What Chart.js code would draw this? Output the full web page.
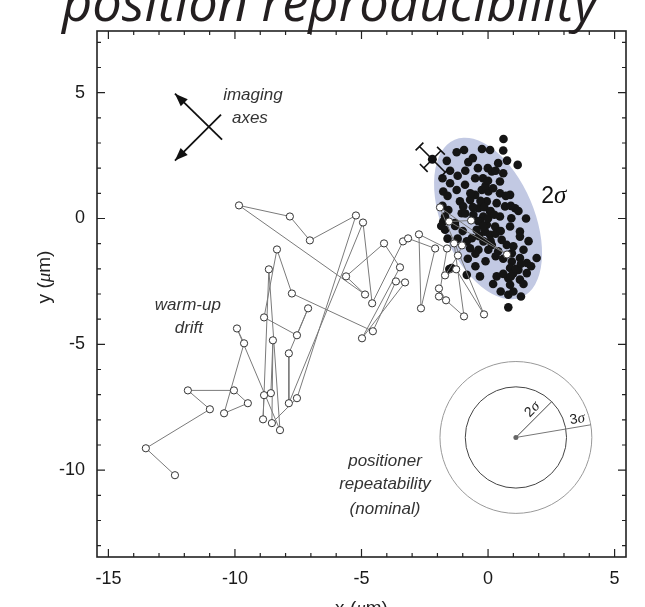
<!DOCTYPE html>
<html><head><meta charset="utf-8">
<script src="https://cdn.jsdelivr.net/npm/chart.js@4/dist/chart.umd.min.js"></script>
<style>html,body{margin:0;padding:0;background:#fff;}canvas{display:block}</style>
</head><body>
<canvas id="c" width="645" height="607"></canvas>
<script>
// ---- data ----
const xTicks = [-15, -10, -5, 0, 5];
const yTicks = [5, 0, -5, -10];
const xRange = [-15.45, 5.45];
const yRange = [-13.45, 7.45];

// warm-up drift (open circles, in acquisition order)
const driftX = [-12.37,-13.52,-10.99,-11.86,-10.04,-9.49,-10.43,-9.64,-9.92,-8.22,-8.66,-8.89,-8.85,-8.58,-8.50,-8.54,-7.55,-5.22,-7.04,-7.83,-9.84,-4.86,-5.61,-4.11,-3.48,-4.98,-3.28,-3.64,-4.55,-7.75,-8.34,-8.85,-7.55,-7.11,-7.87,-7.87,-4.94,-4.58,-3.36,-3.16,-2.09,-2.65,-2.73,-1.62,-1.94,-1.94,-1.66,-0.95,-1.34,-1.03,-1.19,-1.70,-1.26,-0.16,-1.90,0.75,-1.54,-0.67];
const driftY = [-10.20,-9.13,-7.58,-6.83,-6.83,-7.34,-7.74,-4.96,-4.37,-8.41,-2.02,-7.98,-7.02,-6.94,-4.84,-8.13,-7.14,0.12,-0.87,0.08,0.52,-3.02,-2.30,-0.99,-1.94,-4.76,-2.54,-2.50,-4.48,-2.98,-1.23,-3.93,-4.64,-3.57,-5.36,-7.34,-0.16,-3.37,-0.91,-0.79,-1.19,-3.57,-0.63,-1.19,-3.10,-2.78,-3.25,-3.89,-0.99,-1.07,-1.47,-2.26,-2.02,-3.81,0.44,-1.43,-0.12,-0.08];

// repeated positioning (filled dots)
const clusterX = [0.61,1.17,-1.24,-0.95,-1.63,-0.78,-0.24,0.08,-0.01,0.15,0.47,-0.51,-0.91,-1.24,-1.77,-0.25,0.01,0.47,0.87,-0.51,-0.71,-1.11,-0.05,0.34,0.67,1.07,-0.98,-0.38,0.08,-1.04,-0.58,-0.19,0.47,0.92,-1.70,-1.77,-1.31,-0.32,-0.05,0.28,0.87,1.26,-0.45,-0.12,0.08,-1.70,-0.64,-0.84,-0.18,0.15,0.54,0.74,1.26,-0.71,-0.38,0.01,0.94,1.40,1.92,1.26,0.94,1.53,0.87,1.20,1.00,1.53,-0.84,-0.32,0.34,0.80,1.26,0.87,0.80,0.80,-1.44,-1.57,-0.20,-0.10,0.00,-0.30,-0.15,0.10,-0.40,0.00,-0.20,0.25,-0.60,0.30,0.50,-0.35,0.10,0.40,0.60,1.00,1.10,0.60,0.90,1.40,1.70,-1.20,-1.50,-1.00,-1.30,0.30,0.60,-0.60,0.90,1.50,1.60,-0.90,0.75,-1.53,-1.50,-1.80,-1.60,-1.80,-1.85,-1.60,-1.20,-0.80,-0.50,-0.10,0.30,0.20,0.50,1.00,1.30,0.40,-0.40,-0.70,0.70,0.20,-0.90,1.20,1.30,-0.50,0.60];
const clusterY = [3.16,2.13,2.63,2.72,2.29,2.24,2.76,2.72,2.00,1.87,1.47,1.60,1.34,1.13,1.07,1.13,1.07,1.00,0.94,0.94,0.74,0.68,0.68,0.61,0.48,0.41,0.48,0.41,0.28,0.21,0.15,0.08,0.08,0.01,0.08,-0.12,-0.18,-0.12,-0.25,-0.32,-0.32,-0.52,-0.45,-0.52,-0.65,-0.45,-0.78,-0.91,-0.91,-1.05,-0.85,-1.05,-0.72,-1.18,-1.24,-1.24,-1.38,-1.24,-1.57,-1.57,-1.71,-1.77,-1.97,-2.04,-2.17,-2.17,-2.24,-2.30,-2.30,-2.37,-2.43,-2.63,-3.03,-3.53,-1.97,0.34,1.60,1.30,1.50,0.70,0.45,0.30,-0.10,0.00,-0.30,0.15,0.45,-0.60,-0.50,-0.70,-0.90,-1.30,-1.60,-1.10,-2.00,-2.20,-2.30,-2.60,-1.90,1.70,1.40,-0.50,-0.30,1.90,1.80,2.40,0.50,0.00,-0.90,1.90,2.30,-2.01,1.90,1.60,0.90,0.50,-0.30,-0.80,-0.80,-1.60,-1.90,-1.70,-1.50,-2.60,-2.90,-2.90,-3.10,2.20,2.00,1.00,0.90,1.20,0.20,0.30,-1.80,-1.40,2.70];

// 2-sigma ellipse of the repeated positions (micrometres, degrees)
const ellipseCenter = [0.0, 0.0];
const ellipseSemiAxes = [1.82, 3.4];
const ellipseTilt = 23;
// nominal positioner repeatability
const nominalCenter = [1.1, -8.7];
const nominalRadii = [2, 3];
// imaging-axes error marker
const markerPos = [-2.2, 2.35];
const markerErr = [0.72, 0.48];

// ---- helpers ----
function drawParts(ctx, parts, x, y, rot, align) {
  ctx.save(); ctx.translate(x, y); if (rot) ctx.rotate(rot);
  let w = 0;
  parts.forEach(p => { ctx.font = p.f; w += ctx.measureText(p.t).width; });
  let cx = align === 'left' ? 0 : -w / 2;
  ctx.textBaseline = 'alphabetic'; ctx.textAlign = 'left';
  parts.forEach(p => { ctx.font = p.f; ctx.fillStyle = p.c || '#222'; ctx.fillText(p.t, cx, 0); cx += ctx.measureText(p.t).width; });
  ctx.restore();
}
function arrowHead(ctx, x1, y1, x2, y2) {
  const a = Math.atan2(y2 - y1, x2 - x1), L = 13, W = 5;
  ctx.beginPath();
  ctx.moveTo(x2, y2);
  ctx.lineTo(x2 - L * Math.cos(a) + W * Math.sin(a), y2 - L * Math.sin(a) - W * Math.cos(a));
  ctx.lineTo(x2 - L * Math.cos(a) - W * Math.sin(a), y2 - L * Math.sin(a) + W * Math.cos(a));
  ctx.closePath(); ctx.fill();
}

const annot = {
  id: 'annot',
  beforeDatasetsDraw(chart) {
    const { ctx, scales: { x, y } } = chart;
    const ux = Math.abs(x.getPixelForValue(1) - x.getPixelForValue(0));
    const uy = Math.abs(y.getPixelForValue(1) - y.getPixelForValue(0));
    ctx.save();
    ctx.fillStyle = '#c2c9e3';
    ctx.beginPath();
    ctx.ellipse(x.getPixelForValue(ellipseCenter[0]), y.getPixelForValue(ellipseCenter[1]),
      ellipseSemiAxes[0] * ux, ellipseSemiAxes[1] * uy, -ellipseTilt * Math.PI / 180, 0, Math.PI * 2);
    ctx.fill();
    ctx.restore();
  },
  afterDraw(chart) {
    const { ctx, chartArea: ca, scales: { x, y } } = chart;
    const X = v => x.getPixelForValue(v), Y = v => y.getPixelForValue(v);
    const ux = Math.abs(X(1) - X(0));
    ctx.save();
    // frame
    ctx.strokeStyle = '#222'; ctx.lineWidth = 1.6;
    ctx.strokeRect(ca.left, ca.top, ca.right - ca.left, ca.bottom - ca.top);
    // ticks
    ctx.lineWidth = 1.2;
    ctx.beginPath();
    for (let v = Math.ceil(xRange[0]); v <= Math.floor(xRange[1]); v++) {
      const L = v % 5 === 0 ? 8 : 4, px = X(v);
      ctx.moveTo(px, ca.bottom); ctx.lineTo(px, ca.bottom - L);
      ctx.moveTo(px, ca.top); ctx.lineTo(px, ca.top + L);
    }
    for (let v = Math.ceil(yRange[0]); v <= Math.floor(yRange[1]); v++) {
      const L = v % 5 === 0 ? 8 : 4, py = Y(v);
      ctx.moveTo(ca.left, py); ctx.lineTo(ca.left + L, py);
      ctx.moveTo(ca.right, py); ctx.lineTo(ca.right - L, py);
    }
    ctx.stroke();

    // title (cut off at the top)
    ctx.fillStyle = '#231f20';
    let fs = 48; ctx.font = `italic ${fs}px "Open Sans"`;
    fs = fs * 536 / ctx.measureText('position reproducibility').width;
    ctx.font = `italic ${fs}px "Open Sans"`;
    ctx.textAlign = 'left'; ctx.textBaseline = 'alphabetic';
    ctx.fillText('position reproducibility', 62, 21);

    // axis titles
    const af = '19px "Liberation Sans"', ai = 'italic 19px "Liberation Serif"';
    drawParts(ctx, [{ t: 'x (', f: af }, { t: 'μ', f: ai }, { t: 'm)', f: af }], X(-5), 614);
    drawParts(ctx, [{ t: 'y (', f: af }, { t: 'μ', f: ai }, { t: 'm)', f: af }], 50, 277, -Math.PI / 2);

    // labels
    const it = 'italic 17px "Liberation Sans"';
    drawParts(ctx, [{ t: 'imaging', f: it, c: '#333' }], X(-9.29), Y(4.96) + 6);
    drawParts(ctx, [{ t: 'axes', f: it, c: '#333' }], X(-9.41), Y(4.05) + 6);
    drawParts(ctx, [{ t: 'warm-up', f: it, c: '#333' }], X(-11.86), Y(-3.41) + 6);
    drawParts(ctx, [{ t: 'drift', f: it, c: '#333' }], X(-11.82), Y(-4.33) + 6);
    drawParts(ctx, [{ t: 'positioner', f: it, c: '#333' }], X(-4.07), Y(-9.6) + 6);
    drawParts(ctx, [{ t: 'repeatability', f: it, c: '#333' }], X(-4.07), Y(-10.52) + 6);
    drawParts(ctx, [{ t: '(nominal)', f: it, c: '#333' }], X(-4.07), Y(-11.51) + 6);
    drawParts(ctx, [{ t: '2', f: '23px "Liberation Sans"', c: '#111' }, { t: 'σ', f: 'italic 25px "Liberation Serif"', c: '#111' }], X(2.6), Y(0.95) + 8);

    // imaging axes arrows
    ctx.strokeStyle = '#111'; ctx.fillStyle = '#111'; ctx.lineWidth = 1.8;
    const a1 = [X(-10.51), Y(3.13), X(-12.37), Y(4.96)];
    const a2 = [X(-10.55), Y(4.13), X(-12.37), Y(2.30)];
    [a1, a2].forEach(a => {
      ctx.beginPath(); ctx.moveTo(a[0], a[1]); ctx.lineTo(a[2], a[3]); ctx.stroke();
      arrowHead(ctx, a[0], a[1], a[2], a[3]);
    });

    // error marker along imaging axes
    const mx = X(markerPos[0]), my = Y(markerPos[1]);
    ctx.lineWidth = 1.6; ctx.strokeStyle = '#111';
    const s2 = Math.SQRT1_2;
    [[markerErr[0], s2, s2], [markerErr[1], s2, -s2]].forEach(([e, dx, dy]) => {
      const L = e * ux, c = 5.5;
      ctx.beginPath();
      ctx.moveTo(mx - dx * L, my - dy * L); ctx.lineTo(mx + dx * L, my + dy * L);
      [-1, 1].forEach(sg => {
        const ex = mx + sg * dx * L, ey = my + sg * dy * L;
        ctx.moveTo(ex - dy * c, ey + dx * c); ctx.lineTo(ex + dy * c, ey - dx * c);
      });
      ctx.stroke();
    });
    ctx.beginPath(); ctx.arc(mx, my, 4.5, 0, Math.PI * 2); ctx.fill();

    // nominal repeatability circles
    const ncx = X(nominalCenter[0]), ncy = Y(nominalCenter[1]);
    const r2 = nominalRadii[0] * ux, r3 = nominalRadii[1] * ux;
    ctx.lineWidth = 1;
    ctx.strokeStyle = '#999'; ctx.beginPath(); ctx.arc(ncx, ncy, r3, 0, Math.PI * 2); ctx.stroke();
    ctx.strokeStyle = '#444'; ctx.beginPath(); ctx.arc(ncx, ncy, r2, 0, Math.PI * 2); ctx.stroke();
    ctx.strokeStyle = '#444'; ctx.beginPath(); ctx.moveTo(ncx, ncy);
    ctx.lineTo(ncx + r2 * Math.cos(Math.PI / 4), ncy - r2 * Math.sin(Math.PI / 4)); ctx.stroke();
    const a3 = 9.6 * Math.PI / 180;
    ctx.strokeStyle = '#777'; ctx.beginPath(); ctx.moveTo(ncx, ncy);
    ctx.lineTo(ncx + r3 * Math.cos(a3), ncy - r3 * Math.sin(a3)); ctx.stroke();
    ctx.fillStyle = '#666'; ctx.beginPath(); ctx.arc(ncx, ncy, 2.5, 0, Math.PI * 2); ctx.fill();
    drawParts(ctx, [{ t: '2', f: '14px "Liberation Sans"', c: '#222' }, { t: 'σ', f: 'italic 15px "Liberation Serif"', c: '#222' }], ncx + 0.62 * r2 * Math.cos(Math.PI / 4) - 3, ncy - 0.62 * r2 * Math.sin(Math.PI / 4) - 3, -Math.PI / 4);
    drawParts(ctx, [{ t: '3', f: '14px "Liberation Sans"', c: '#222' }, { t: 'σ', f: 'italic 15px "Liberation Serif"', c: '#222' }], ncx + 0.83 * r3 * Math.cos(a3), ncy - 0.83 * r3 * Math.sin(a3) - 4, -a3);
    ctx.restore();
  }
};

const toPts = (xs, ys) => xs.map((v, i) => ({ x: v, y: ys[i] }));

new Chart(document.getElementById('c'), {
  type: 'scatter',
  data: {
    datasets: [
      {
        label: 'warm-up drift', data: toPts(driftX, driftY), showLine: true,
        borderColor: '#7a7a7a', borderWidth: 1, pointRadius: 3.6,
        pointBackgroundColor: '#fff', pointBorderColor: '#333', pointBorderWidth: 1, order: 0
      },
      {
        label: 'repeat', data: toPts(clusterX, clusterY), showLine: false,
        pointRadius: 4.3, pointBackgroundColor: '#151515', pointBorderWidth: 0, order: 1
      }
    ]
  },
  options: {
    responsive: false, animation: false, maintainAspectRatio: false,
    layout: { padding: { top: 31, right: 19, left: 0, bottom: 0 } },
    plugins: { legend: { display: false }, tooltip: { enabled: false } },
    scales: {
      x: {
        type: 'linear', min: xRange[0], max: xRange[1],
        grid: { display: false, drawTicks: false }, border: { display: false },
        afterBuildTicks: s => { s.ticks = xTicks.map(v => ({ value: v })); },
        afterFit: s => { s.height = 50; },
        ticks: { font: { family: 'Liberation Sans', size: 18 }, color: '#1a1a1a', padding: 11, maxRotation: 0, callback: v => String(v) }
      },
      y: {
        type: 'linear', min: yRange[0], max: yRange[1],
        grid: { display: false, drawTicks: false }, border: { display: false },
        afterBuildTicks: s => { s.ticks = yTicks.map(v => ({ value: v })); },
        afterFit: s => { s.width = 97; },
        ticks: { font: { family: 'Liberation Sans', size: 18 }, color: '#1a1a1a', padding: 12, callback: v => String(v) }
      }
    }
  },
  plugins: [annot]
});
</script>
</body></html>
